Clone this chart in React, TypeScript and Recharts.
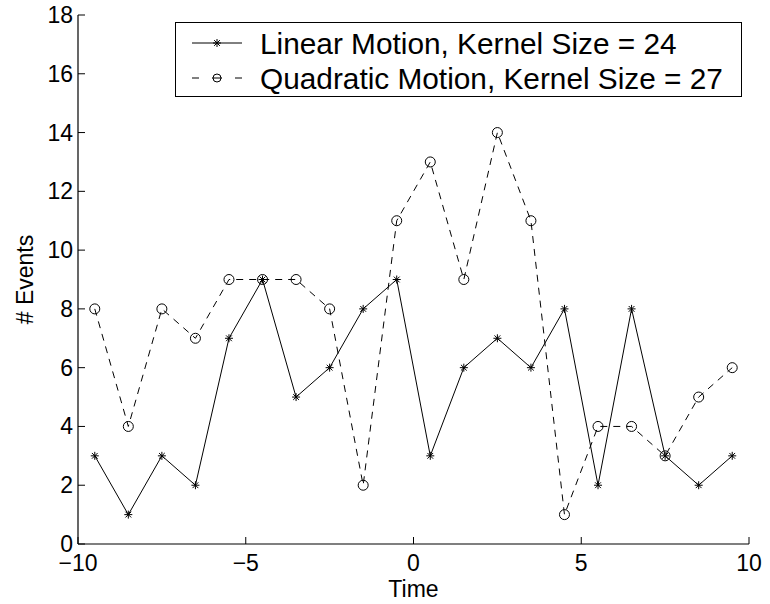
import { LineChart, Line, XAxis, YAxis, Legend } from 'recharts';

// time bins (centres) and event counts
const times = [-9.5, -8.5, -7.5, -6.5, -5.5, -4.5, -3.5, -2.5, -1.5, -0.5, 0.5, 1.5, 2.5, 3.5, 4.5, 5.5, 6.5, 7.5, 8.5, 9.5];
const linearEvents = [3, 1, 3, 2, 7, 9, 5, 6, 8, 9, 3, 6, 7, 6, 8, 2, 8, 3, 2, 3];
const quadraticEvents = [8, 4, 8, 7, 9, 9, 9, 8, 2, 11, 13, 9, 14, 11, 1, 4, 4, 3, 5, 6];

const xTicks = [-10, -5, 0, 5, 10];
const yTicks = [0, 2, 4, 6, 8, 10, 12, 14, 16, 18];
const seriesNames = ['Linear Motion, Kernel Size = 24', 'Quadratic Motion, Kernel Size = 27'];

const FONT = '"Liberation Sans", Arial, Helvetica, sans-serif';
const TICK_LEN = 7;
const TICK_FONT = 23;

const data = times.map((t, i) => ({
  time: t,
  linear: linearEvents[i],
  quadratic: quadraticEvents[i],
}));

function Asterisk({ cx, cy, r = 4 }: { cx: number; cy: number; r?: number }) {
  const d = r * 0.72;
  return (
    <g stroke="#000" strokeWidth={1}>
      <line x1={cx - r} y1={cy} x2={cx + r} y2={cy} />
      <line x1={cx} y1={cy - r} x2={cx} y2={cy + r} />
      <line x1={cx - d} y1={cy - d} x2={cx + d} y2={cy + d} />
      <line x1={cx - d} y1={cy + d} x2={cx + d} y2={cy - d} />
    </g>
  );
}

function OpenCircle({ cx, cy, r = 5 }: { cx: number; cy: number; r?: number }) {
  return <circle cx={cx} cy={cy} r={r} fill="none" stroke="#000" strokeWidth={1} />;
}

function fmt(v: number) {
  return v < 0 ? `\u2212${Math.abs(v)}` : `${v}`;
}

function BottomTick(props: any) {
  const { x, y, payload } = props;
  return (
    <g>
      <line x1={x} y1={y} x2={x} y2={y - TICK_LEN} stroke="#000" />
      <text x={x} y={y + 27} textAnchor="middle" fontSize={TICK_FONT} fontFamily={FONT} fill="#000">
        {fmt(payload.value)}
      </text>
    </g>
  );
}

function TopTick(props: any) {
  const { x, y } = props;
  return <line x1={x} y1={y} x2={x} y2={y + TICK_LEN} stroke="#000" />;
}

function LeftTick(props: any) {
  const { x, y, payload } = props;
  return (
    <g>
      <line x1={x} y1={y} x2={x + TICK_LEN} y2={y} stroke="#000" />
      <text x={x - 5} y={y + 8} textAnchor="end" fontSize={TICK_FONT} fontFamily={FONT} fill="#000">
        {fmt(payload.value)}
      </text>
    </g>
  );
}

function RightTick(props: any) {
  const { x, y } = props;
  return <line x1={x} y1={y} x2={x - TICK_LEN} y2={y} stroke="#000" />;
}

function LegendBox() {
  return (
    <svg width={567} height={75} style={{ display: 'block' }}>
      <rect x={0.5} y={0.5} width={566} height={74} fill="#fff" stroke="#000" />
      <line x1={17} y1={21} x2={67} y2={21} stroke="#000" />
      <Asterisk cx={42} cy={21} />
      <line x1={17} y1={56} x2={24} y2={56} stroke="#000" />
      <line x1={60} y1={56} x2={67} y2={56} stroke="#000" />
      <line x1={37} y1={56} x2={47} y2={56} stroke="#000" />
      <OpenCircle cx={42} cy={56} r={4} />
      <text x={85} y={32} fontSize={29.8} fontFamily={FONT} fill="#000">{seriesNames[0]}</text>
      <text x={85} y={67} fontSize={29.8} fontFamily={FONT} fill="#000">{seriesNames[1]}</text>
    </svg>
  );
}

export default function App() {
  return (
    <div style={{ position: 'absolute', left: 0, top: 0, width: 770, height: 604, background: '#fff' }}>
      <LineChart width={770} height={604} data={data} margin={{ top: 15, right: 21, bottom: 0, left: 0 }}>
        <XAxis
          dataKey="time"
          type="number"
          domain={[-10, 10]}
          ticks={xTicks}
          height={60}
          tickSize={0}
          tickMargin={0}
          tickLine={false}
          tick={<BottomTick />}
          axisLine={{ stroke: '#000', strokeWidth: 1.2 }}
          allowDataOverflow
          label={{ value: 'Time', position: 'insideTop', offset: 37, fill: '#000', fontSize: TICK_FONT, fontFamily: FONT }}
        />
        <XAxis
          xAxisId="top"
          orientation="top"
          dataKey="time"
          type="number"
          domain={[-10, 10]}
          ticks={xTicks}
          height={0}
          tickSize={0}
          tickMargin={0}
          tickLine={false}
          tick={<TopTick />}
          axisLine={{ stroke: '#000', strokeWidth: 1.2 }}
          allowDataOverflow
        />
        <YAxis
          type="number"
          domain={[0, 18]}
          ticks={yTicks}
          width={78}
          tickSize={0}
          tickMargin={0}
          tickLine={false}
          tick={<LeftTick />}
          axisLine={{ stroke: '#000', strokeWidth: 1.2 }}
          allowDataOverflow
          label={{
            value: '# Events',
            angle: -90,
            position: 'insideLeft',
            offset: 25,
            fill: '#000',
            fontSize: TICK_FONT,
            fontFamily: FONT,
            style: { textAnchor: 'middle' },
          }}
        />
        <YAxis
          yAxisId="right"
          orientation="right"
          type="number"
          domain={[0, 18]}
          ticks={yTicks}
          width={0}
          tickSize={0}
          tickMargin={0}
          tickLine={false}
          tick={<RightTick />}
          axisLine={{ stroke: '#000', strokeWidth: 1.2 }}
          allowDataOverflow
        />
        <Legend
          layout="horizontal"
          verticalAlign="middle"
          align="center"
          wrapperStyle={{ left: 175, top: 22, width: 567, height: 75 }}
          content={() => <LegendBox />}
        />
        <Line
          type="linear"
          dataKey="linear"
          stroke="#000"
          strokeWidth={1}
          isAnimationActive={false}
          dot={(p: any) => <Asterisk key={`l-${p.index}`} cx={p.cx} cy={p.cy} />}
          activeDot={false}
        />
        <Line
          type="linear"
          dataKey="quadratic"
          stroke="#000"
          strokeWidth={1}
          strokeDasharray="7 6"
          isAnimationActive={false}
          dot={(p: any) => <OpenCircle key={`q-${p.index}`} cx={p.cx} cy={p.cy} />}
          activeDot={false}
        />
      </LineChart>
    </div>
  );
}
